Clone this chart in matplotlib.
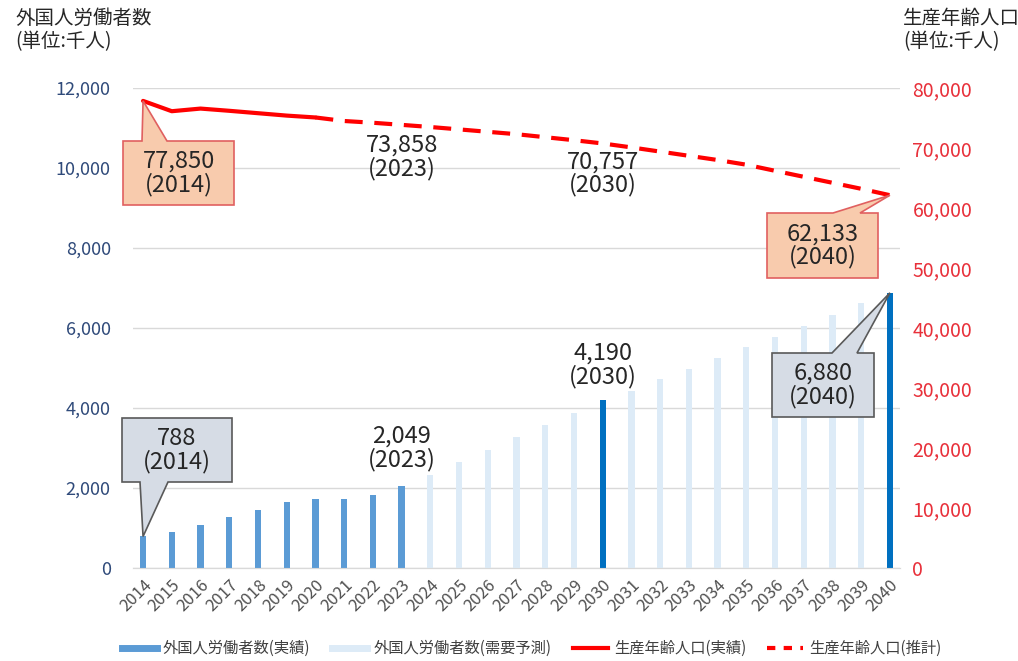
import matplotlib
matplotlib.use("Agg")
import matplotlib.pyplot as plt
from matplotlib.patches import Polygon

plt.rcParams['font.family'] = ['Noto Sans CJK JP', 'DejaVu Sans']

years = list(range(2014, 2041))
# 外国人労働者数（千人）
workers_actual = [788, 908, 1084, 1279, 1460, 1659, 1724, 1727, 1823, 2049]
workers_forecast = [2330, 2640, 2960, 3270, 3575, 3870, 4190, 4430, 4725, 4975,
                    5250, 5525, 5775, 6050, 6325, 6625, 6880]
# 生産年齢人口（千人）
pop_years_actual = [2014, 2015, 2016, 2017, 2018, 2019, 2020]
pop_actual = [77850, 76130, 76570, 76200, 75800, 75400, 75088]
pop_years_proj = list(range(2020, 2041))
pop_proj = [75088, 74500, 74208, 73858, 73500, 73102, 72700, 72300, 71800, 71300,
            70757, 70100, 69400, 68700, 68000, 67216, 66200, 65200, 64200, 63200, 62133]
highlight_years = [2030, 2040]

C_ACT = '#5B9BD5'
C_HL = '#0070C0'
C_FC = '#DDEBF7'
C_RED = '#FF0000'
C_TXT = '#262626'

fig = plt.figure(figsize=(10.18, 6.61), dpi=100)
ax = fig.add_axes([133/1018, 1-568/661, (900-133)/1018, (568-88)/661])
ax2 = ax.twinx()

idx = {y: i for i, y in enumerate(years)}
bw = 0.22
ax.bar([idx[y] for y in years[:len(workers_actual)]], workers_actual, width=bw, color=C_ACT, zorder=3)
fc_years = years[len(workers_actual):]
fc_colors = [C_HL if y in highlight_years else C_FC for y in fc_years]
ax.bar([idx[y] for y in fc_years], workers_forecast, width=bw, color=fc_colors, zorder=3)

ax2.plot([idx[y] for y in pop_years_actual], pop_actual, color=C_RED, lw=3,
         solid_capstyle='round', zorder=4)
ax2.plot([idx[y] for y in pop_years_proj], pop_proj, color=C_RED, lw=3,
         dashes=(4.3, 2.8), zorder=4)

ax.set_xlim(-0.35, len(years) - 0.65)
ax.set_ylim(0, 12000)
ax2.set_ylim(0, 80000)
ax.set_yticks(range(0, 12001, 2000))
ax2.set_yticks(range(0, 80001, 10000))
ax.set_yticklabels([f"{v:,}" for v in range(0, 12001, 2000)])
ax2.set_yticklabels([f"{v:,}" for v in range(0, 80001, 10000)])
ax.set_xticks(range(len(years)))
ax.set_xticklabels([str(y) for y in years], rotation=45, ha='right',
                   rotation_mode='anchor', fontsize=12, color='#505050')
ax.grid(axis='y', color='#D9D9D9', lw=1, zorder=0)
ax.set_axisbelow(True)
ax.tick_params(axis='y', length=0, pad=16, labelsize=13, labelcolor='#2F4A7A')
ax.tick_params(axis='x', length=0, pad=6)
ax2.tick_params(axis='y', length=0, pad=9, labelsize=14, labelcolor='#E8303A')
for a in (ax, ax2):
    for s in ('top', 'left', 'right'):
        a.spines[s].set_visible(False)
    a.spines['bottom'].set_color('#D9D9D9')

fig.text(15/1018, 1-8/661, "外国人労働者数\n(単位:千人)", fontsize=14, va='top',
         ha='left', color=C_TXT, linespacing=1.15)
fig.text(903/1018, 1-8/661, "生産年齢人口\n(単位:千人)", fontsize=14, va='top',
         ha='left', color=C_TXT, linespacing=1.15)

fig.canvas.draw()
H = 661


def callout(a, year, val, box, base, text, fc, ec):
    # box = (x0, y_top, x1, y_bottom) in pixels from top; base = (bx0, bx1) on the edge facing the tip
    tx, ty = a.transData.transform((idx[year], val))
    x0, yt, x1, yb = box
    yt, yb = H - yt, H - yb
    b0, b1 = base
    if ty > yt:  # tip above box
        pts = [(x0, yb), (x0, yt), (b0, yt), (tx, ty), (b1, yt), (x1, yt), (x1, yb)]
    else:
        pts = [(x0, yt), (x1, yt), (x1, yb), (b1, yb), (tx, ty), (b0, yb), (x0, yb)]
    fig.patches.append(Polygon(pts, closed=True, transform=None, facecolor=fc,
                               edgecolor=ec, lw=1.2, zorder=10))
    fig.text((x0 + x1) / 2 / 1018, (yt + yb) / 2 / H, text, ha='center', va='center',
             fontsize=17, color=C_TXT, linespacing=1.0, zorder=11)


callout(ax, 2014, workers_actual[0], (122, 418, 232, 482), (140, 168),
        "788\n(2014)", '#D6DCE5', '#595959')
callout(ax, 2040, workers_forecast[-1], (772, 353, 874, 417), (832, 857),
        "6,880\n(2040)", '#D6DCE5', '#595959')
callout(ax2, 2014, pop_actual[0], (123, 141, 234, 205), (142, 167),
        "77,850\n(2014)", '#F8CBAD', '#E06060')
callout(ax2, 2040, pop_proj[-1], (767, 213, 878, 278), (833, 860),
        "62,133\n(2040)", '#F8CBAD', '#E06060')


def label(a, year, val, dy, text):
    x, y = a.transData.transform((idx[year], val))
    fig.text(x / 1018, (y + dy) / H, text, ha='center', va='center', fontsize=17,
             color=C_TXT, linespacing=1.0)


label(ax, 2023, workers_actual[-1], 38, "2,049\n(2023)")
label(ax, 2030, workers_forecast[years.index(2030) - len(workers_actual)], 35, "4,190\n(2030)")
label(ax2, 2023, pop_proj[pop_years_proj.index(2023)], -32, "73,858\n(2023)")
label(ax2, 2030, pop_proj[pop_years_proj.index(2030)], -30, "70,757\n(2030)")

handles = [
    plt.Line2D([], [], color=C_ACT, lw=5),
    plt.Line2D([], [], color=C_FC, lw=5),
    plt.Line2D([], [], color=C_RED, lw=3),
    plt.Line2D([], [], color=C_RED, lw=3, dashes=(2, 2)),
]
labels = ["外国人労働者数(実績)", "外国人労働者数(需要予測)", "生産年齢人口(実績)", "生産年齢人口(推計)"]
fig.legend(handles, labels, loc='lower center', bbox_to_anchor=(0.522, -0.015), ncol=4,
           frameon=False, fontsize=11, handlelength=2.3, columnspacing=1.4,
           handletextpad=0.4, labelcolor='#404040')

fig.savefig("out.png", dpi=100)
